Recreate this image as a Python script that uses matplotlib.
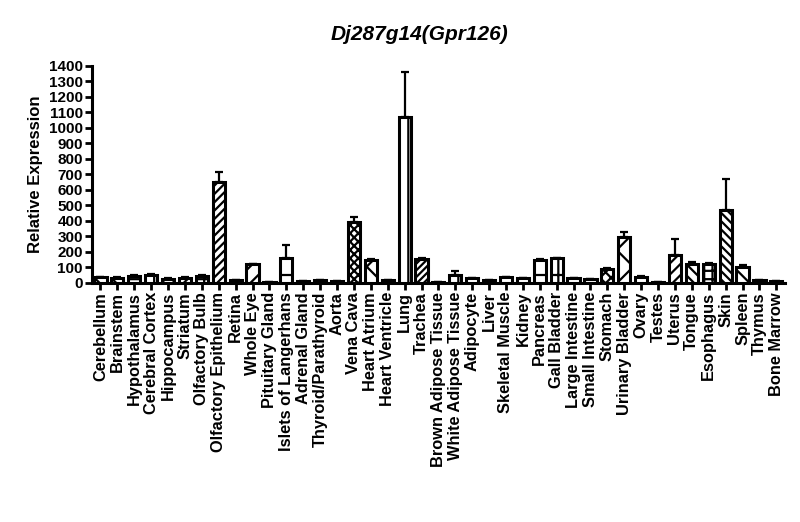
import numpy as np
import matplotlib
matplotlib.use('Agg')
import matplotlib.pyplot as plt

plt.rcParams['font.family'] = ['Liberation Sans', 'DejaVu Sans']
plt.rcParams['hatch.linewidth'] = 1.6

tissues = ['Cerebellum', 'Brainstem', 'Hypothalamus', 'Cerebral Cortex', 'Hippocampus',
           'Striatum', 'Olfactory Bulb', 'Olfactory Epithelium', 'Retina', 'Whole Eye',
           'Pituitary Gland', 'Islets of Langerhans', 'Adrenal Gland', 'Thyroid/Parathyroid',
           'Aorta', 'Vena Cava', 'Heart Atrium', 'Heart Ventricle', 'Lung', 'Trachea',
           'Brown Adipose Tissue', 'White Adipose Tissue', 'Adipocyte', 'Liver',
           'Skeletal Muscle', 'Kidney', 'Pancreas', 'Gall Bladder', 'Large Intestine',
           'Small Intestine', 'Stomach', 'Urinary Bladder', 'Ovary', 'Testes', 'Uterus',
           'Tongue', 'Esophagus', 'Skin', 'Spleen', 'Thymus', 'Bone Marrow']

expression = [35, 33, 45, 50, 28, 33, 43, 648, 20, 120,
              5, 162, 12, 18, 10, 395, 145, 18, 1068, 152,
              5, 50, 30, 20, 35, 30, 145, 158, 30, 25,
              92, 293, 38, 3, 183, 125, 120, 470, 105, 18, 10]

sem = [3, 3, 8, 5, 3, 3, 5, 65, 2, 5,
       1, 85, 2, 3, 2, 30, 12, 2, 290, 6,
       1, 25, 3, 2, 5, 3, 8, 5, 3, 2,
       5, 35, 4, 1, 100, 8, 6, 200, 10, 2, 2]

hatches = ['\\\\', '\\\\', '--', '||', '///', '//', '++', '////', '', '//',
           '', '-', '', '', '', 'xxxx', 'x', '', '|', '/////',
           '', '+', '', '', '', '', '-', '+', '', '',
           'xxx', 'x', '', '', '///', '\\\\\\', '++', '\\\\\\\\', '\\', '', '']

x = np.arange(len(tissues))

fig = plt.figure(figsize=(8, 5.22), dpi=100)
ax = fig.add_axes([0.115, 0.458, 0.866, 0.416])

bars = ax.bar(x, expression, width=0.72, color='white', edgecolor='black',
              linewidth=2.2, zorder=3)
for b, h in zip(bars, hatches):
    b.set_hatch(h)

ax.errorbar(x, expression, yerr=[np.zeros(len(sem)), sem], fmt='none',
            ecolor='black', elinewidth=1.6, capsize=3, capthick=1.6, zorder=2)

ax.set_xlim(-0.5, len(tissues) - 0.5)
ax.set_ylim(0, 1400)
ax.set_yticks(np.arange(0, 1401, 100))
ax.set_xticks(x)
ax.set_xticklabels(tissues, rotation=90, fontsize=11.8, fontweight='bold')
for lab in ax.get_yticklabels():
    lab.set_fontsize(11)
    lab.set_fontweight('bold')

for s in ['top', 'right']:
    ax.spines[s].set_visible(False)
for s in ['left', 'bottom']:
    ax.spines[s].set_linewidth(2.2)
ax.tick_params(axis='both', width=2, length=5, pad=1.5)

fig.text(35.5 / 800, 1 - 174 / 522, 'Relative Expression', rotation=90,
         ha='center', va='center', fontsize=12, fontweight='bold')

fig.text(0.524, 0.933, 'Dj287g14(Gpr126)', ha='center', va='center',
         fontsize=15, fontweight='bold', fontstyle='italic')

fig.savefig('out.png', dpi=100)
